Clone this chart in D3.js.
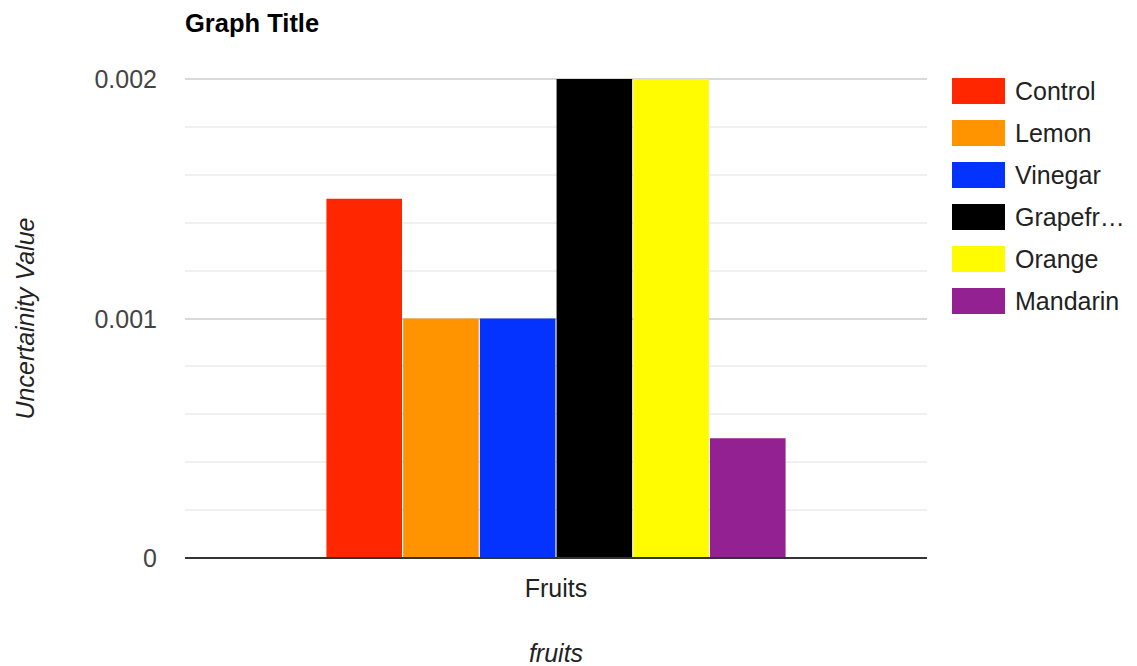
<!DOCTYPE html>
<html lang="en">
<head>
  <meta charset="utf-8">
  <title>Graph Title</title>
  <script src="https://d3js.org/d3.v7.min.js" charset="utf-8"></script>
  <style type="text/css">
    body { margin: 0; background: #fff; }
    text { font-family: Arial, "Liberation Sans", sans-serif; }
  </style>
</head>
<body>
  <svg id="chart" width="1137" height="666" xmlns="http://www.w3.org/2000/svg"></svg>
  <script type="text/javascript">
    // data
    var categories = ['Fruits'];
    var seriesNames = ['Control', 'Lemon', 'Vinegar', 'Grapefruit', 'Orange', 'Mandarin'];
    var legendLabels = ['Control', 'Lemon', 'Vinegar', 'Grapefr\u2026', 'Orange', 'Mandarin'];
    var seriesValues = [0.0015, 0.001, 0.001, 0.002, 0.002, 0.0005];
    var seriesColors = ['#ff2600', '#ff9300', '#0433ff', '#000000', '#fffb00', '#942192'];
    var yTicks = [0, 0.001, 0.002];
    var yTickLabels = ['0', '0.001', '0.002'];
    var minorStep = 0.0002;

    var svg = d3.select('#chart');
    // plot area (note: "top" clashes with window.top)
    var plotLeft = 185, plotRight = 927, plotTop = 79, plotBottom = 558;

    var x0 = d3.scaleBand().domain(categories).range([plotLeft, plotRight]).paddingInner(0).paddingOuter(0.308);
    var x1 = d3.scaleBand().domain(seriesNames).range([0, x0.bandwidth()]).paddingInner(0.015);
    var y = d3.scaleLinear().domain([0, 0.002]).range([plotBottom, plotTop]);

    // minor gridlines
    var minor = d3.range(0, 0.002 + 1e-9, minorStep).filter(function(v) {
      return Math.abs(v / 0.001 - Math.round(v / 0.001)) > 1e-6;
    });
    svg.append('g').selectAll('line').data(minor).enter().append('line')
      .attr('x1', plotLeft).attr('x2', plotRight)
      .attr('y1', function(d) { return Math.round(y(d)); })
      .attr('y2', function(d) { return Math.round(y(d)); })
      .style('stroke', '#ebebeb').style('stroke-width', 1.5);

    // major gridlines
    svg.append('g').selectAll('line').data(yTicks.slice(1)).enter().append('line')
      .attr('x1', plotLeft).attr('x2', plotRight)
      .attr('y1', function(d) { return Math.round(y(d)); })
      .attr('y2', function(d) { return Math.round(y(d)); })
      .style('stroke', '#cccccc').style('stroke-width', 1.5);

    // bars
    var groups = svg.append('g').selectAll('g').data(categories).enter().append('g')
      .attr('transform', function(d) { return 'translate(' + x0(d) + ',0)'; });
    groups.selectAll('rect').data(seriesNames).enter().append('rect')
      .attr('x', function(d) { return x1(d); })
      .attr('y', function(d, i) { return y(seriesValues[i]); })
      .attr('width', x1.bandwidth())
      .attr('height', function(d, i) { return plotBottom - y(seriesValues[i]); })
      .style('fill', function(d, i) { return seriesColors[i]; });

    // baseline
    svg.append('line')
      .attr('x1', plotLeft).attr('x2', plotRight)
      .attr('y1', plotBottom).attr('y2', plotBottom)
      .style('stroke', '#333333').style('stroke-width', 2);

    // y tick labels
    svg.append('g').selectAll('text').data(yTicks).enter().append('text')
      .attr('x', 157)
      .attr('y', function(d) { return y(d) + 9; })
      .attr('text-anchor', 'end')
      .attr('font-size', '25px')
      .style('fill', '#444444')
      .text(function(d, i) { return yTickLabels[i]; });

    // category label
    svg.append('g').selectAll('text').data(categories).enter().append('text')
      .attr('x', function(d) { return x0(d) + x0.bandwidth() / 2; })
      .attr('y', 597)
      .attr('text-anchor', 'middle')
      .attr('font-size', '25px')
      .style('fill', '#222222')
      .text(function(d) { return d; });

    // axis titles
    svg.append('text')
      .attr('x', (plotLeft + plotRight) / 2).attr('y', 662)
      .attr('text-anchor', 'middle')
      .attr('font-size', '25px').attr('font-style', 'italic')
      .style('fill', '#222222')
      .text('fruits');

    svg.append('text')
      .attr('transform', 'translate(34,' + ((plotTop + plotBottom) / 2) + ') rotate(-90)')
      .attr('text-anchor', 'middle')
      .attr('font-size', '25px').attr('font-style', 'italic')
      .style('fill', '#222222')
      .text('Uncertainity Value');

    // title
    svg.append('text')
      .attr('x', plotLeft).attr('y', 32)
      .attr('font-size', '25.5px').attr('font-weight', 'bold')
      .style('fill', '#000000')
      .text('Graph Title');

    // legend
    var legend = svg.append('g').selectAll('g').data(seriesNames).enter().append('g')
      .attr('transform', function(d, i) { return 'translate(952,' + (78 + i * 42) + ')'; });
    legend.append('rect')
      .attr('width', 53).attr('height', 26)
      .style('fill', function(d, i) { return seriesColors[i]; });
    legend.append('text')
      .attr('x', 63).attr('y', 22)
      .attr('font-size', '25px')
      .style('fill', '#222222')
      .text(function(d, i) { return legendLabels[i]; });
  </script>
</body>
</html>
